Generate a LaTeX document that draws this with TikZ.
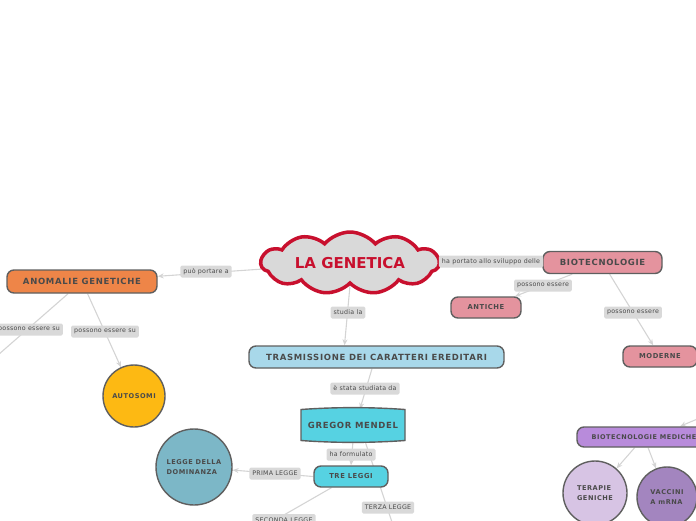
\documentclass[tikz,border=0pt]{standalone}
\usepackage{fontspec}
\setmainfont{DejaVu Sans}
\newfontfamily\boxfont[LetterSpace=8]{DejaVu Sans}
\newfontfamily\tagfont[LetterSpace=4]{DejaVu Sans}
\usetikzlibrary{shapes.symbols, arrows.meta}
\pgfdeclarelayer{bg}
\pgfsetlayers{bg,main}

\definecolor{crimson}{HTML}{C8102E}
\definecolor{cloudfill}{HTML}{D9D9D9}
\definecolor{boxline}{HTML}{5F5F5F}
\definecolor{boxtext}{HTML}{4A4A4A}
\definecolor{linkgray}{HTML}{D4D4D4}
\definecolor{tagfill}{HTML}{D9D9D9}
\definecolor{orangebox}{HTML}{EE8548}
\definecolor{pinkbox}{HTML}{E4939E}
\definecolor{bluebox}{HTML}{A8D8EA}
\definecolor{cyanbox}{HTML}{56D2E2}
\definecolor{purplebox}{HTML}{B88BDB}
\definecolor{yellowball}{HTML}{FDB913}
\definecolor{tealball}{HTML}{7CB7C7}
\definecolor{lilacball}{HTML}{D7C4E4}
\definecolor{violetball}{HTML}{A385BF}

\tikzset{
  topic/.style={draw=boxline, line width=1.4pt, rounded corners=7pt, text=boxtext,
    font=\boxfont\fontsize{8.5}{9}\selectfont\bfseries, minimum height=22pt, inner sep=0pt},
  smalltopic/.style={topic, font=\boxfont\fontsize{6.8}{8}\selectfont\bfseries, minimum height=21pt},
  ball/.style={circle, draw=boxline, line width=1.4pt, text=boxtext, align=left,
    font=\boxfont\fontsize{6.6}{9.5}\selectfont\bfseries, inner sep=0pt},
  tag/.style={fill=tagfill, rounded corners=1.5pt, text=boxtext,
    font=\tagfont\fontsize{6.3}{7}\selectfont, inner xsep=3pt, inner ysep=0pt, minimum height=12pt},
  link/.style={draw=linkgray, line width=1.1pt},
  arr/.style={link, -{Stealth[length=6pt, width=5pt]}}
}

\begin{document}
\begin{tikzpicture}[x=1pt, y=-1pt]
    \useasboundingbox (0,0) rectangle (696,520);
    \clip (0,0) rectangle (696,520);

    \node[cloud, cloud puffs=11, cloud puff arc=100, aspect=3.6, draw=crimson, fill=cloudfill,
      line width=3.5pt, minimum width=178pt, minimum height=40pt, inner sep=0pt, text=crimson,
      font=\fontsize{15}{17}\selectfont\bfseries] (gen) at (350,263) {LA GENETICA};

    \node[topic, fill=orangebox, minimum width=150pt, minimum height=23pt] (anom) at (82,281.5) {ANOMALIE GENETICHE};
    \node[ball, fill=yellowball, minimum size=62pt] (auto) at (134,396) {AUTOSOMI};

    \node[topic, fill=pinkbox, minimum width=119pt] (bio) at (602.5,262.5) {BIOTECNOLOGIE};
    \node[smalltopic, fill=pinkbox, minimum width=70pt] (ant) at (486,307.5) {ANTICHE};
    \node[smalltopic, fill=pinkbox, minimum width=74pt] (mod) at (660,356.5) {MODERNE};
    \node[smalltopic, fill=purplebox, minimum width=134pt, minimum height=20pt,
      font=\boxfont\fontsize{6.5}{8}\selectfont\bfseries] (med) at (644,437) {BIOTECNOLOGIE MEDICHE};
    \node[ball, fill=lilacball, minimum size=64pt] (tera) at (595,493) {TERAPIE\\GENICHE};
    \node[ball, fill=violetball, minimum size=60pt] (vacc) at (667,497) {VACCINI\\A mRNA};

    \node[topic, fill=bluebox, minimum width=255pt] (tras) at (376.5,357) {TRASMISSIONE DEI CARATTERI EREDITARI};
    \draw[fill=cyanbox, draw=boxline, line width=1.4pt] (301,409.5) .. controls (335,407) and (371,407) .. (405,409.5)
      -- (405,440.5) .. controls (371,443) and (335,443) .. (301,440.5) -- cycle;
    \node[text=boxtext, font=\boxfont\fontsize{8.5}{9}\selectfont\bfseries, minimum width=104pt, minimum height=32pt] (greg) at (353,425) {GREGOR MENDEL};
    \node[smalltopic, fill=cyanbox, minimum width=74pt] (tre) at (351,476.5) {TRE LEGGI};
    \node[ball, fill=tealball, minimum size=76pt] (domin) at (194,467) {LEGGE DELLA\\DOMINANZA};

    \coordinate (leftout) at (-10,362);
    \coordinate (secout) at (249,535);
    \coordinate (terout) at (398,540);
    \coordinate (medin) at (720,409.5);

    \begin{pgfonlayer}{bg}
    \draw[arr] (gen) -- (anom);
    \draw[link] (anom) -- (leftout);
    \draw[arr] (anom) -- (auto);
    \draw[arr] (gen) -- (bio);
    \draw[arr] (bio) -- (ant);
    \draw[arr] (bio) -- (mod);
    \draw[arr] (medin) -- ([xshift=36pt]med.north);
    \draw[arr] (med) -- (tera);
    \draw[arr] (med) -- (vacc);
    \draw[arr] (gen.south) -- ([xshift=-32pt]tras.north);
    \draw[arr] ([xshift=-4.5pt]tras.south) -- ([xshift=7pt]greg.north);
    \draw[arr] (greg.south) -- (tre.north);
    \draw[arr] (tre.west) -- (domin);
    \draw[link] (tre) -- (secout);
    \draw[link] ([xshift=12pt]greg.south) -- (terout);
    \end{pgfonlayer}

    \node[tag] (tgan) at (206,271.5) {può portare a};
    \node[tag] (tgl1) at (29,329.5) {possono essere su};
    \node[tag] (tgl2) at (105,331.5) {possono essere su};
    \node[tag] (tgbi) at (491,261.5) {ha portato allo sviluppo delle};
    \node[tag] (tgat) at (543,285.5) {possono essere};
    \node[tag] (tgmo) at (633,312.5) {possono essere};
    \node[tag] (tgst) at (348,312.5) {studia la};
    \node[tag] (tgme) at (365,388.5) {è stata studiata da};
    \node[tag] (tgfo) at (351,454.5) {ha formulato};
    \node[tag] (tgpr) at (275,473.5) {PRIMA LEGGE};
    \node[tag] (tgse) at (284,520) {SECONDA LEGGE};
    \node[tag] (tgte) at (388,507.5) {TERZA LEGGE};
\end{tikzpicture}
\end{document}
